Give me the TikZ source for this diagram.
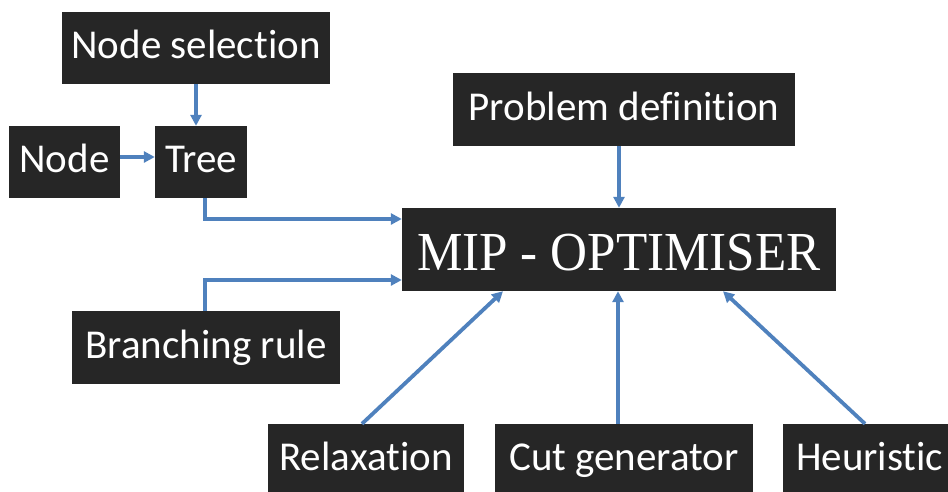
\documentclass[tikz,border=0pt]{standalone}
\usepackage{fontspec}
\setmainfont{Carlito}[Ligatures={NoCommon}]
\newfontfamily\mipfont{Liberation Serif}
\usetikzlibrary{arrows.meta}
\definecolor{boxfill}{HTML}{262626}
\definecolor{arrowblue}{HTML}{4F81BD}
\tikzset{
  box/.style={fill=boxfill, text=white, inner sep=0pt, text height=29pt, text depth=8pt, font=\fontsize{41}{43}\selectfont},
  conn/.style={draw=arrowblue, line width=3.8pt, -{Triangle[length=11pt,width=11pt]}}
}
\begin{document}
\begin{tikzpicture}[x=1pt,y=-1pt]
\useasboundingbox (0,0) rectangle (948,491);
\node[box, minimum width=268pt, minimum height=72pt] (nsel) at (196,48) {Node selection};
\node[box, minimum width=111pt, minimum height=72pt] (node) at (64.5,162) {Node};
\node[box, minimum width=92pt, minimum height=72pt] (tree) at (201,162) {Tree};
\node[box, minimum width=342pt, minimum height=73pt] (pdef) at (624,109.5) {Problem definition};
\node[box, minimum width=434pt, minimum height=83pt, text height=45pt, text depth=4pt, font=\mipfont\fontsize{55}{57}\selectfont] (mip) at (619,249.5) {\scalebox{0.93}[1]{MIP - OPTIMISER}};
\node[box, minimum width=268pt, minimum height=73pt] (branch) at (206,347.5) {Branching rule};
\node[box, minimum width=196pt, minimum height=72pt] (relax) at (366,460) {Relaxation};
\node[box, minimum width=258pt, minimum height=72pt] (cut) at (624,460) {Cut generator};
\node[box, minimum width=177pt, minimum height=72pt, anchor=west] (heur) at (783,460) {\hspace*{-4pt}Heuristic};
% connectors
\coordinate (t1) at (205,198);
\coordinate (t2) at (205,219);
\coordinate (b1) at (205,311);
\coordinate (b2) at (205,280);
\draw[conn] (nsel.south -| 196,0) -- (tree.north -| 196,0);
\draw[conn] (node.east |- 0,157) -- (tree.west |- 0,157);
\draw[conn] (t1) -- (t2) -- (mip.west |- t2);
\draw[conn] (b1) -- (b2) -- (mip.west |- b2);
\draw[conn] (pdef.south -| 619,0) -- (mip.north -| 619,0);
\draw[conn] (relax.north -| 362,0) -- (mip.south -| 503,0);
\draw[conn] (cut.north -| 618,0) -- (mip.south -| 618,0);
\draw[conn] (heur.north -| 865,0) -- (mip.south -| 723,0);
\end{tikzpicture}
\end{document}
